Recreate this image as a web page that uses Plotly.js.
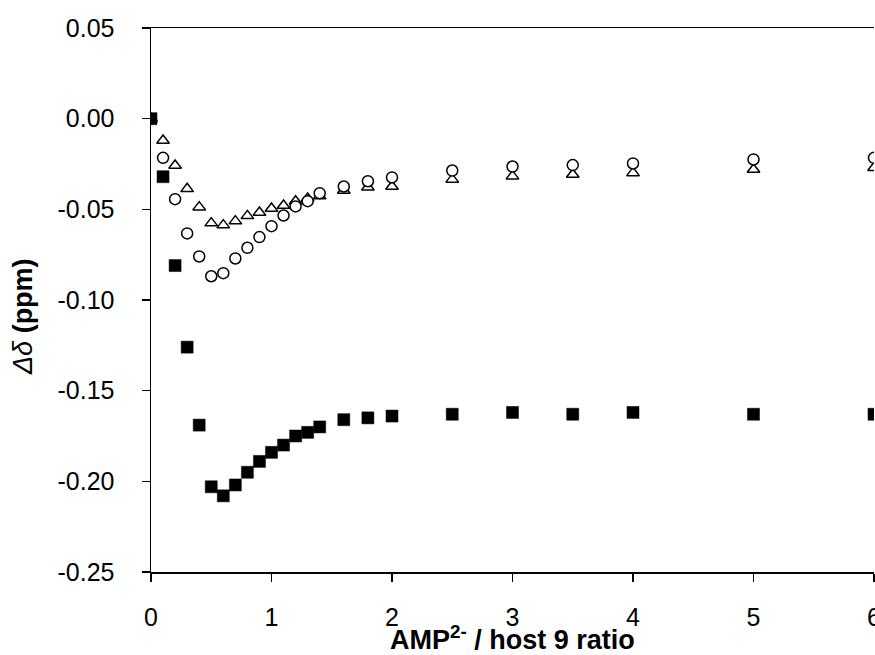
<!DOCTYPE html>
<html>
<head>
<meta charset="utf-8">
<script src="https://cdn.plot.ly/plotly-3.0.1.min.js"></script>
<style>
  html, body { margin: 0; padding: 0; overflow: hidden; background: #fff; }
  #chart { width: 900px; height: 655px; }
</style>
</head>
<body>
<div id="chart"></div>
<script>
// AMP2- / host 9 ratio
const ratio = [0, 0.1, 0.2, 0.3, 0.4, 0.5, 0.6, 0.7, 0.8, 0.9, 1.0, 1.1, 1.2, 1.3, 1.4, 1.6, 1.8, 2.0, 2.5, 3.0, 3.5, 4.0, 5.0, 6.0];
// filled squares
const squareShift = [0, -0.032, -0.081, -0.126, -0.169, -0.203, -0.208, -0.202, -0.195, -0.189, -0.184, -0.180, -0.175, -0.173, -0.170, -0.166, -0.165, -0.164, -0.163, -0.162, -0.163, -0.162, -0.163, -0.163];
// open circles
const circleShift = [0, -0.0216, -0.0444, -0.0633, -0.0760, -0.0869, -0.0852, -0.0771, -0.0712, -0.0653, -0.0593, -0.0534, -0.0484, -0.0455, -0.0411, -0.0374, -0.0345, -0.0324, -0.0286, -0.0264, -0.0256, -0.0247, -0.0225, -0.0216];
// open triangles
const triangleShift = [0, -0.0120, -0.0258, -0.0387, -0.0488, -0.0576, -0.0587, -0.0565, -0.0536, -0.0517, -0.0495, -0.0479, -0.0455, -0.0440, -0.0427, -0.0396, -0.0378, -0.0374, -0.0335, -0.0317, -0.0308, -0.0299, -0.0280, -0.0271];

const xTickVals = [0, 1, 2, 3, 4, 5, 6];
const xTickText = ['0', '1', '2', '3', '4', '5', '6'];
const yTickVals = [0.05, 0, -0.05, -0.10, -0.15, -0.20, -0.25];
const yTickText = ['0.05', '0.00', '-0.05', '-0.10', '-0.15', '-0.20', '-0.25'];

const FONT = 'Arial, "Liberation Sans", sans-serif';

const traces = [
  {
    x: ratio, y: triangleShift, type: 'scatter', mode: 'markers', name: 'triangles',
    marker: { symbol: 'triangle-up', size: 11, color: '#ffffff', line: { color: '#000000', width: 1.5 } }
  },
  {
    x: ratio, y: circleShift, type: 'scatter', mode: 'markers', name: 'circles',
    marker: { symbol: 'circle', size: 11, color: '#ffffff', line: { color: '#000000', width: 1.5 } }
  },
  {
    x: ratio, y: squareShift, type: 'scatter', mode: 'markers', name: 'squares',
    marker: { symbol: 'square', size: 12, color: '#000000', line: { color: '#000000', width: 0.5 } }
  }
];

const axisCommon = {
  showline: true, linecolor: '#000000', linewidth: 1.5,
  ticks: 'outside', ticklen: 8, tickwidth: 1.5, tickcolor: '#000000',
  showgrid: false, zeroline: false,
  tickfont: { family: FONT, size: 25, color: '#000000' },
  tickmode: 'array'
};

const layout = {
  width: 900, height: 655,
  margin: { l: 151, r: 26, t: 28, b: 83 },
  paper_bgcolor: '#ffffff', plot_bgcolor: '#ffffff',
  showlegend: false,
  font: { family: FONT, color: '#000000' },
  xaxis: Object.assign({}, axisCommon, {
    range: [0, 6], tickvals: xTickVals, ticktext: xTickText, mirror: true, ticklabelstandoff: 14
  }),
  yaxis: Object.assign({}, axisCommon, {
    range: [-0.25, 0.05], tickvals: yTickVals, ticktext: yTickText, mirror: false, ticklabelstandoff: 22
  }),
  annotations: [
    {
      text: '<b>AMP<sup>2-</sup> / host 9 ratio</b>',
      xref: 'paper', yref: 'paper', x: 0.5, y: (572 - 638) / 544,
      xanchor: 'center', yanchor: 'middle', showarrow: false,
      font: { family: FONT, size: 27, color: '#000000' }
    },
    {
      text: '<i>Δδ</i> <b>(ppm)</b>',
      xref: 'paper', yref: 'paper', x: (23 - 151) / 723, y: (572 - 317) / 544,
      xanchor: 'center', yanchor: 'middle', showarrow: false, textangle: -90,
      font: { family: FONT, size: 27, color: '#000000' }
    }
  ]
};

Plotly.newPlot('chart', traces, layout, { displayModeBar: false, staticPlot: true });
</script>
</body>
</html>
